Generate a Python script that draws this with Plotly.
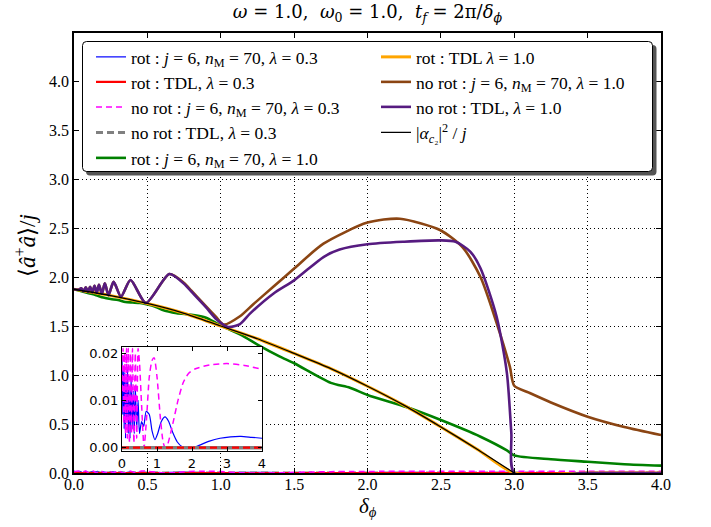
import plotly.graph_objects as go

# ---------------- data ----------------
x_ticks = [0.0, 0.5, 1.0, 1.5, 2.0, 2.5, 3.0, 3.5, 4.0]
y_ticks = [0.0, 0.5, 1.0, 1.5, 2.0, 2.5, 3.0, 3.5, 4.0]
inset_x_ticks = [0, 1, 2, 3, 4]
inset_y_ticks = [0.0, 0.01, 0.02]

# rot : j=6, nM=70, lambda=0.3
d_rot_j6_03 = [0.00, 0.02, 0.04, 0.06, 0.08, 0.10, 0.12, 0.14, 0.16, 0.18,
               0.20, 0.23, 0.26, 0.29, 0.32, 0.35, 0.38, 0.42, 0.46, 0.50,
               0.56, 0.62, 0.69, 0.78, 0.86, 0.94, 1.02, 1.12, 1.23, 1.33,
               1.45, 1.58, 1.72, 1.85, 2.0, 2.2, 2.5, 2.8, 3.1, 3.4,
               3.7, 4.0]
v_rot_j6_03 = [0.019, 0.007, 0.017, 0.004, 0.016, 0.002, 0.014, 0.006, 0.017, 0.003,
               0.013, 0.002, 0.015, 0.004, 0.012, 0.003, 0.013, 0.004, 0.010, 0.003,
               0.0055, 0.0045, 0.0077, 0.0070, 0.0035, 0.0017, 0.0030, 0.0055, 0.0065, 0.0056,
               0.0032, 0.0012, 0.0002, 0.0, 0.0, 0.0005, 0.0014, 0.0020, 0.0023, 0.0024,
               0.0022, 0.0020]

# rot : TDL, lambda=0.3
d_rot_tdl_03 = [0.0, 4.0]
v_rot_tdl_03 = [0.0, 0.0]

# no rot : j=6, nM=70, lambda=0.3
d_norot_j6_03 = [0.00, 0.03, 0.05, 0.08, 0.10, 0.13, 0.15, 0.18, 0.21, 0.24,
                 0.27, 0.30, 0.34, 0.38, 0.42, 0.46, 0.50, 0.56, 0.63, 0.70,
                 0.78, 0.86, 0.92, 1.00, 1.10, 1.18, 1.24, 1.30, 1.45, 1.60,
                 1.75, 1.90, 2.10, 2.50, 3.00, 3.50, 4.00]
v_norot_j6_03 = [0.012, 0.021, 0.005, 0.020, 0.003, 0.021, 0.002, 0.021, 0.001, 0.020,
                 0.003, 0.021, 0.001, 0.020, 0.002, 0.021, 0.018, 0.009, 0.0, 0.006,
                 0.015, 0.0185, 0.019, 0.015, 0.006, 0.001, 0.0, 0.0006, 0.005, 0.010,
                 0.0138, 0.0157, 0.0167, 0.0175, 0.0178, 0.0174, 0.0166]

# no rot : TDL, lambda=0.3
d_norot_tdl_03 = [0.0, 4.0]
v_norot_tdl_03 = [0.0, 0.0]

# rot : j=6, nM=70, lambda=1.0
d_rot_j6_10 = [0.0, 0.1, 0.15, 0.2, 0.25, 0.3, 0.35, 0.4, 0.45, 0.5,
               0.55, 0.6, 0.7, 0.8, 0.9, 0.97, 1.05, 1.15, 1.25, 1.4,
               1.5, 1.75, 1.88, 2.0, 2.27, 2.5, 2.77, 2.95, 3.0, 3.25,
               3.5, 3.75, 4.0]
v_rot_j6_10 = [1.875, 1.835, 1.815, 1.79, 1.775, 1.765, 1.745, 1.74, 1.735, 1.72,
               1.70, 1.665, 1.63, 1.615, 1.585, 1.53, 1.47, 1.40, 1.31, 1.19,
               1.12, 0.92, 0.87, 0.796, 0.67, 0.54, 0.37, 0.23, 0.18, 0.14,
               0.115, 0.09, 0.075]

# rot : TDL lambda=1.0
d_rot_tdl_10 = [0.0, 0.25, 0.5, 0.75, 1.0, 1.25, 1.5, 1.75, 2.0, 2.25, 2.5, 2.75, 3.0, 3.5, 4.0]
v_rot_tdl_10 = [1.875, 1.81, 1.73, 1.63, 1.50, 1.37, 1.22, 1.065, 0.885, 0.69, 0.47, 0.24, 0.0, 0.0, 0.0]

# no rot : j=6, nM=70, lambda=1.0
d_norot_j6_10 = [0.0, 0.03, 0.05, 0.065, 0.08, 0.095, 0.11, 0.125, 0.14, 0.155,
                 0.17, 0.19, 0.21, 0.235, 0.27, 0.32, 0.385, 0.49, 0.65, 0.75,
                 0.8, 0.9, 0.97, 1.02, 1.131, 1.22, 1.358, 1.5, 1.7, 2.0,
                 2.22, 2.494, 2.65, 2.77, 2.88, 2.97, 3.0, 3.1, 3.25, 3.5,
                 3.75, 4.0]
v_norot_j6_10 = [1.875, 1.87, 1.885, 1.855, 1.895, 1.85, 1.90, 1.845, 1.91, 1.84,
                 1.92, 1.83, 1.935, 1.815, 1.95, 1.80, 1.97, 1.735, 2.03, 1.94,
                 1.86, 1.70, 1.59, 1.515, 1.60, 1.72, 1.90, 2.086, 2.34, 2.555,
                 2.595, 2.48, 2.30, 2.0, 1.53, 1.085, 0.89, 0.82, 0.72, 0.575,
                 0.47, 0.388]

# no rot : TDL, lambda=1.0
d_norot_tdl_10 = [0.0, 0.03, 0.05, 0.065, 0.08, 0.095, 0.11, 0.125, 0.14, 0.155,
                  0.17, 0.19, 0.21, 0.235, 0.27, 0.32, 0.385, 0.49, 0.65, 0.75,
                  0.8, 0.9, 0.97, 1.05, 1.131, 1.199, 1.358, 1.5, 1.7, 1.81,
                  2.0, 2.25, 2.494, 2.6, 2.7, 2.77, 2.88, 2.95, 2.98, 3.0,
                  3.5, 4.0]
v_norot_tdl_10 = [1.875, 1.87, 1.885, 1.855, 1.895, 1.85, 1.90, 1.845, 1.91, 1.84,
                  1.92, 1.83, 1.935, 1.815, 1.95, 1.80, 1.97, 1.735, 2.03, 1.93,
                  1.85, 1.69, 1.57, 1.49, 1.52, 1.626, 1.83, 1.966, 2.204, 2.28,
                  2.334, 2.36, 2.374, 2.36, 2.26, 2.09, 1.595, 1.02, 0.41, 0.0,
                  0.0, 0.0]

# |alpha_c2|^2 / j
d_alpha = [0.0, 0.25, 0.5, 0.75, 1.0, 1.25, 1.5, 1.75, 2.0, 2.25, 2.5, 2.75, 3.0]
v_alpha = [1.875, 1.81, 1.73, 1.63, 1.50, 1.37, 1.22, 1.065, 0.885, 0.69, 0.47, 0.24, 0.0]

# ---------------- figure ----------------
W, H = 711, 527
ML, MR, MT, MB = 74, 50, 33, 54
PW, PH = W - ML - MR, H - MT - MB

def px_x(p):
    return (p - ML) / PW

def px_y(p):
    return (H - MB - p) / PH

SERIF = "Liberation Serif"
LEGFONT = dict(family=SERIF, size=17.5, color="black")
fig = go.Figure()

# (x, y, name, color, width, dash, column, row)
series = [
    (d_rot_j6_03, v_rot_j6_03, "rot : <i>j</i> = 6, <i>n</i><sub>M</sub> = 70, <i>λ</i> = 0.3",
     "#0000ff", 1.2, "solid", 0, 0),
    (d_norot_tdl_03, v_norot_tdl_03, "no rot : TDL, <i>λ</i> = 0.3",
     "#808080", 3, "7px,4px", 0, 3),
    (d_rot_tdl_03, v_rot_tdl_03, "rot : TDL, <i>λ</i> = 0.3",
     "#ff0000", 2.2, "solid", 0, 1),
    (d_norot_j6_03, v_norot_j6_03, "no rot : <i>j</i> = 6, <i>n</i><sub>M</sub> = 70, <i>λ</i> = 0.3",
     "#ff00ff", 1.5, "6px,4px", 0, 2),
    (d_rot_j6_10, v_rot_j6_10, "rot : <i>j</i> = 6, <i>n</i><sub>M</sub> = 70, <i>λ</i> = 1.0",
     "#008000", 2.6, "solid", 0, 4),
    (d_rot_tdl_10, v_rot_tdl_10, "rot : TDL <i>λ</i> = 1.0",
     "#ffa500", 3, "solid", 1, 0),
    (d_norot_j6_10, v_norot_j6_10, "no rot : <i>j</i> = 6, <i>n</i><sub>M</sub> = 70, <i>λ</i> = 1.0",
     "#8b4513", 2.6, "solid", 1, 1),
    (d_norot_tdl_10, v_norot_tdl_10, "no rot : TDL, <i>λ</i> = 1.0",
     "#561b80", 2.6, "solid", 1, 2),
    (d_alpha, v_alpha, "|<i>α</i><sub><i>c</i>₂</sub>|<sup>2</sup> / <i>j</i>",
     "#000000", 1.3, "solid", 1, 3),
]

row_y = [57, 82, 107, 132.5, 158]
col_x = [91, 376]
legend_layouts = {}
for i, (x, y, name, color, width, dash, col, row) in enumerate(series):
    lname = "legend" if i == 0 else f"legend{i + 1}"
    legend_layouts[lname] = dict(
        x=px_x(col_x[col]), y=px_y(row_y[row]), xanchor="left", yanchor="middle",
        bgcolor="rgba(0,0,0,0)", borderwidth=0, font=LEGFONT)
    fig.add_trace(go.Scatter(
        x=x, y=y, mode="lines", name=name,
        line=dict(color=color, width=width, dash=dash, shape="spline", smoothing=0.7),
        legend=lname, xaxis="x", yaxis="y", cliponaxis=True,
    ))

# inset: the lambda = 0.3 series
inset_series = [
    (d_rot_j6_03, v_rot_j6_03, "#0000ff", 1.2, "solid"),
    (d_norot_j6_03, v_norot_j6_03, "#ff00ff", 1.5, "6px,4px"),
    (d_norot_tdl_03, v_norot_tdl_03, "#808080", 3.5, "solid"),
    (d_rot_tdl_03, v_rot_tdl_03, "#ff0000", 2.2, "7px,4px"),
]
for x, y, color, width, dash in inset_series:
    fig.add_trace(go.Scatter(
        x=x, y=y, mode="lines", showlegend=False,
        line=dict(color=color, width=width, dash=dash, shape="spline", smoothing=0.6),
        xaxis="x2", yaxis="y2",
    ))

# legend box (rounded, with shadow)
def rounded(x0p, y0p, x1p, y1p, r):
    x0, x1 = px_x(x0p), px_x(x1p)
    y0, y1 = px_y(y1p), px_y(y0p)
    rx, ry = r / PW, r / PH
    return (f"M {x0+rx},{y0} L {x1-rx},{y0} Q {x1},{y0} {x1},{y0+ry} "
            f"L {x1},{y1-ry} Q {x1},{y1} {x1-rx},{y1} L {x0+rx},{y1} "
            f"Q {x0},{y1} {x0},{y1-ry} L {x0},{y0+ry} Q {x0},{y0} {x0+rx},{y0} Z")

shapes = [
    dict(type="path", xref="paper", yref="paper", layer="above",
         path=rounded(86, 45, 656.5, 175.5, 4), fillcolor="#555555",
         line=dict(width=0)),
    dict(type="path", xref="paper", yref="paper", layer="above",
         path=rounded(82.5, 41.5, 652.5, 171.5, 4), fillcolor="white",
         line=dict(color="black", width=1)),
    dict(type="rect", xref="x2 domain", yref="y2 domain", layer="below",
         x0=0, x1=1, y0=0, y1=1, fillcolor="white", line=dict(width=0)),
]

annotations = [
    dict(text="<i>δ</i><sub><i>ϕ</i></sub>", xref="paper", yref="paper",
         x=px_x(367.5), y=px_y(507), xanchor="center", yanchor="middle",
         showarrow=False, font=dict(family=SERIF, size=21, color="black")),
    dict(text="⟨<i>â</i><sup>+</sup><i>â</i>⟩/<i>j</i>", xref="paper", yref="paper",
         x=px_x(25), y=px_y(246), xanchor="center", yanchor="middle", textangle=-90,
         showarrow=False, font=dict(family=SERIF, size=23, color="black")),
]

axis_common = dict(showline=True, linecolor="black", mirror="ticks", ticks="inside",
                   tickcolor="black", zeroline=False)

fig.update_layout(
    width=W, height=H,
    margin=dict(l=ML, r=MR, t=MT, b=MB),
    paper_bgcolor="white", plot_bgcolor="white",
    title=dict(text="<i>ω</i> = 1.0,  <i>ω</i><sub>0</sub> = 1.0,  <i>t<sub>f</sub></i> = 2π/<i>δ</i><sub><i>ϕ</i></sub>",
               x=367.5 / W, xanchor="center",
               y=1 - 12 / H, yanchor="middle",
               font=dict(family="DejaVu Serif", size=18, color="black")),
    xaxis=dict(domain=[0, 1], range=[0, 4], tickvals=x_ticks,
               ticktext=[f"{t:.1f}" for t in x_ticks], ticklen=5, linewidth=1.5,
               showgrid=True, gridcolor="#000000", griddash="1px,3px", gridwidth=1,
               tickfont=dict(family=SERIF, size=16, color="black"),
               ticklabelstandoff=-4,
               **axis_common),
    yaxis=dict(domain=[0, 1], range=[0, 4.49], tickvals=y_ticks,
               ticktext=[f"{t:.1f}" for t in y_ticks], ticklen=5, linewidth=1.5,
               showgrid=True, gridcolor="#000000", griddash="1px,3px", gridwidth=1,
               tickfont=dict(family=SERIF, size=16, color="black"),
               **axis_common),
    xaxis2=dict(domain=[px_x(122), px_x(262)], anchor="y2", range=[0, 4],
                tickvals=inset_x_ticks, ticktext=[str(t) for t in inset_x_ticks],
                ticklen=4, linewidth=1.3, showgrid=False,
                tickfont=dict(family="DejaVu Sans", size=13, color="black"),
                **axis_common),
    yaxis2=dict(domain=[px_y(451), px_y(347)], anchor="x2", range=[-0.0007, 0.0213],
                tickvals=inset_y_ticks, ticktext=[f"{t:.2f}" for t in inset_y_ticks],
                ticklen=4, linewidth=1.3, showgrid=False,
                tickfont=dict(family="DejaVu Sans", size=13, color="black"),
                **axis_common),
    shapes=shapes,
    annotations=annotations,
    showlegend=True,
    **legend_layouts,
)

fig.write_html("out.html")
